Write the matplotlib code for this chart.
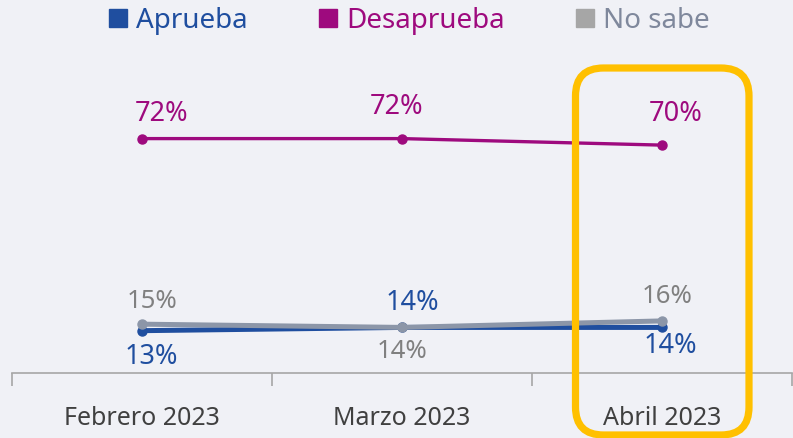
# approval line chart, feb-apr 2023, with the april column boxed in yellow
import matplotlib.pyplot as plt
from matplotlib.lines import Line2D
from matplotlib.patches import FancyBboxPatch
from matplotlib.transforms import IdentityTransform

months = ["Febrero 2023", "Marzo 2023", "Abril 2023"]
aprueba = [13, 14, 14]
desaprueba = [72, 72, 70]
no_sabe = [15, 14, 16]

BG = "#f0f1f6"
C_APR = "#1f4e9f"
C_DES = "#9e0a7e"
C_NS = "#8c96a8"
C_NS_LABEL = "#808080"
C_NS_LEGEND = "#a6a6a6"
C_NS_LEGTEXT = "#7f889c"
YELLOW = "#ffc000"

plt.rcParams["font.family"] = ["Noto Sans", "DejaVu Sans"]

fig = plt.figure(figsize=(7.93, 4.38), dpi=100)
fig.patch.set_facecolor(BG)
ax = fig.add_axes([12 / 793, 65 / 438, 780 / 793, 293 / 438])
ax.set_facecolor(BG)

x = list(range(len(months)))

# blue first, gray sits on top of it like in the original
ax.plot(x, aprueba, color=C_APR, lw=3.6, marker="o", ms=6.5, solid_capstyle="round")
ax.plot(x, no_sabe, color=C_NS, lw=3.6, marker="o", ms=6.5, solid_capstyle="round")
ax.plot(x, desaprueba, color=C_DES, lw=2.4, marker="o", ms=6.5)

# label offsets in pixels (dx, dy) - picked by eye
des_off = [(20, 25), (-5, 32), (14, 31)]
ns_off = [(10, 23), (0, -24), (5, 24)]
apr_off = [(9, -26), (10, 24), (8, -19)]

for i in x:
    ax.annotate(f"{desaprueba[i]}%", (i, desaprueba[i]), xytext=des_off[i],
                textcoords="offset pixels", ha="center", va="center",
                color=C_DES, fontsize=19.5)
    ax.annotate(f"{no_sabe[i]}%", (i, no_sabe[i]), xytext=ns_off[i],
                textcoords="offset pixels", ha="center", va="center",
                color=C_NS_LABEL, fontsize=18.5)
    ax.annotate(f"{aprueba[i]}%", (i, aprueba[i]), xytext=apr_off[i],
                textcoords="offset pixels", ha="center", va="center",
                color=C_APR, fontsize=19.5, fontweight="semibold")

ax.set_xlim(-0.5, len(months) - 0.5)
ax.set_ylim(0, 90)
ax.set_yticks([])

# boundary ticks between categories, labels on minor ticks in the middle
ax.set_xticks([-0.5, 0.5, 1.5, 2.5])
ax.set_xticklabels([])
ax.set_xticks(x, minor=True)
ax.set_xticklabels(months, minor=True)
ax.tick_params(axis="x", which="major", length=9, width=1.2, color="#a6a6a6", direction="out")
ax.tick_params(axis="x", which="minor", length=0, pad=24, labelsize=18, labelcolor="#404040")

for side in ("top", "right", "left"):
    ax.spines[side].set_visible(False)
ax.spines["bottom"].set_color("#a6a6a6")
ax.spines["bottom"].set_linewidth(1.2)

handles = [
    Line2D([], [], ls="", marker="s", ms=13, color=C_APR),
    Line2D([], [], ls="", marker="s", ms=13, color=C_DES),
    Line2D([], [], ls="", marker="s", ms=13, color=C_NS_LEGEND),
]
leg = fig.legend(handles, ["Aprueba", "Desaprueba", "No sabe"], loc="center",
                 bbox_to_anchor=(407 / 793, 1 - 21 / 438), ncol=3, frameon=False,
                 fontsize=20, handletextpad=0.15, columnspacing=2.4, handlelength=1.0)
for txt, c in zip(leg.get_texts(), [C_APR, C_DES, C_NS_LEGTEXT]):
    txt.set_color(c)

# yellow highlight box, in pixel coords so the corners stay round
box = FancyBboxPatch((575.5, 438 - 435), 749 - 575.5, 435 - 68,
                     boxstyle="round,pad=0,rounding_size=28",
                     transform=IdentityTransform(), fill=False,
                     edgecolor=YELLOW, lw=5.2, clip_on=False)
fig.patches.append(box)

fig.savefig("out.png", dpi=100, facecolor=BG)
